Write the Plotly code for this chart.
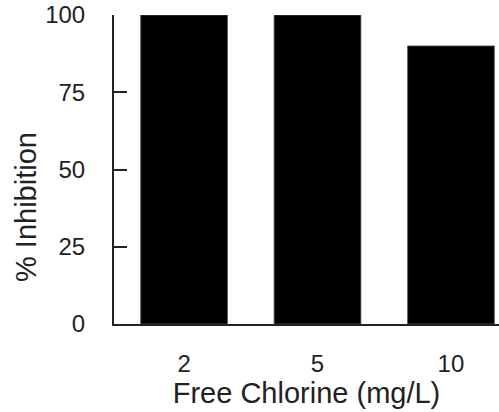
import plotly.graph_objects as go

categories = ["2", "5", "10"]
inhibition = [100, 100, 90]
y_ticks = [0, 25, 50, 75, 100]

font = "Liberation Sans, Arial, Helvetica, sans-serif"

fig = go.Figure(go.Bar(
    x=[0, 1, 2], y=inhibition,
    width=0.65,
    marker=dict(color="black", line=dict(color="#555", width=0.8)),
))

fig.update_layout(
    width=499, height=412,
    margin=dict(l=114, r=0, t=15, b=88),
    plot_bgcolor="white", paper_bgcolor="white",
    showlegend=False,
    font=dict(family=font, size=24, color="#222"),
    annotations=[dict(
        text="% Inhibition", textangle=-90,
        xref="paper", yref="paper", x=-0.2286, y=0.3786,
        xanchor="center", yanchor="middle", showarrow=False,
        font=dict(family=font, size=29, color="#222"),
    )],
)
fig.update_xaxes(
    range=[-0.525, 2.36],
    tickmode="array", tickvals=[0, 1, 2], ticktext=categories,
    showline=True, linecolor="#222", linewidth=2,
    ticks="", showgrid=False, zeroline=False,
    ticklabelstandoff=17, automargin=False,
    title=dict(text="Free Chlorine (mg/L)", standoff=0,
               font=dict(size=29)),
)
fig.update_yaxes(
    range=[0, 100.01],
    tickmode="array", tickvals=y_ticks,
    showline=True, linecolor="#222", linewidth=2,
    ticks="inside", ticklen=13, tickwidth=2, tickcolor="#222",
    showgrid=False, zeroline=False,
    ticklabelstandoff=22, automargin=False,
    ticklabeloverflow="allow",
)

fig.write_html("out.html", config={"displayModeBar": False},
               post_script="document.body.style.margin='0';")
